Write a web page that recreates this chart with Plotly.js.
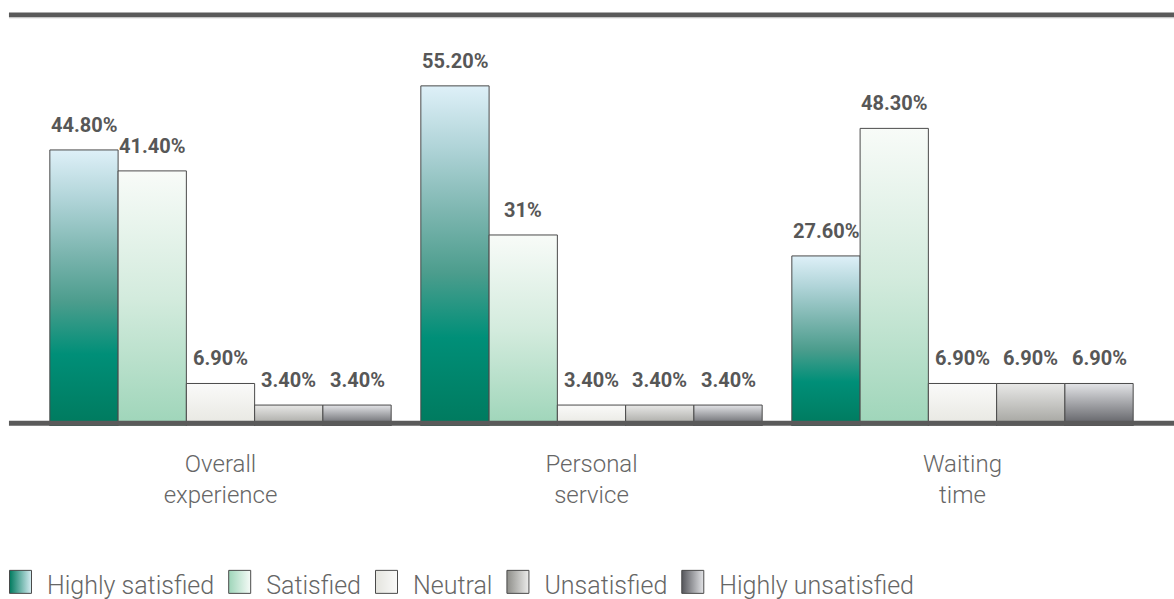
<!DOCTYPE html>
<html><head><meta charset="utf-8">
<script src="https://cdn.plot.ly/plotly-3.0.1.min.js"></script>
<style>html,body{margin:0;padding:0;background:#fff}#chart{width:1174px;height:599px}</style>
</head><body>
<svg width="0" height="0" style="position:absolute">
<defs>
<linearGradient id="bg0" x1="0" y1="0" x2="0" y2="1">
<stop offset="0" stop-color="#def0f8"/><stop offset="0.18" stop-color="#b0d4d8"/><stop offset="0.37" stop-color="#7db6b0"/><stop offset="0.55" stop-color="#4c9d8d"/><stop offset="0.74" stop-color="#008f78"/><stop offset="1" stop-color="#007a5e"/>
</linearGradient>
<linearGradient id="bg1" x1="0" y1="0" x2="0" y2="1">
<stop offset="0" stop-color="#f8fbf8"/><stop offset="0.5" stop-color="#d3ebdd"/><stop offset="1" stop-color="#9ed5b9"/>
</linearGradient>
<linearGradient id="bg2" x1="0" y1="0" x2="0" y2="1">
<stop offset="0" stop-color="#fafaf9"/><stop offset="1" stop-color="#e7e7e1"/>
</linearGradient>
<linearGradient id="bg3" x1="0" y1="0" x2="0" y2="1">
<stop offset="0" stop-color="#e8e8e7"/><stop offset="1" stop-color="#a2a29d"/>
</linearGradient>
<linearGradient id="bg4" x1="0" y1="0" x2="0" y2="1">
<stop offset="0" stop-color="#e3e4e7"/><stop offset="1" stop-color="#5b5c61"/>
</linearGradient>
<linearGradient id="lg0" x1="0" y1="0" x2="1" y2="0">
<stop offset="0" stop-color="#007a5e"/><stop offset="1" stop-color="#d6ecf2"/>
</linearGradient>
<linearGradient id="lg1" x1="0" y1="0" x2="1" y2="0">
<stop offset="0" stop-color="#9ed5b9"/><stop offset="1" stop-color="#f5fbf7"/>
</linearGradient>
<linearGradient id="lg2" x1="0" y1="0" x2="1" y2="0">
<stop offset="0" stop-color="#e4e4de"/><stop offset="1" stop-color="#fafaf9"/>
</linearGradient>
<linearGradient id="lg3" x1="0" y1="0" x2="1" y2="0">
<stop offset="0" stop-color="#8e8e89"/><stop offset="1" stop-color="#ececeb"/>
</linearGradient>
<linearGradient id="lg4" x1="0" y1="0" x2="1" y2="0">
<stop offset="0" stop-color="#55565b"/><stop offset="1" stop-color="#e3e4e7"/>
</linearGradient>
</defs></svg>
<div id="chart"></div>
<script>
// ---- data ----
const categories = ['Overall<br>experience', 'Personal<br>service', 'Waiting<br>time'];
const seriesNames = ['Highly satisfied', 'Satisfied', 'Neutral', 'Unsatisfied', 'Highly unsatisfied'];
const highlySatisfied = [44.8, 55.2, 27.6];
const satisfied = [41.4, 31, 48.3];
const neutral = [6.9, 3.4, 6.9];
const unsatisfied = [3.4, 3.4, 6.9];
const highlyUnsatisfied = [3.4, 3.4, 6.9];
const seriesValues = [highlySatisfied, satisfied, neutral, unsatisfied, highlyUnsatisfied];

// ---- styles ----
const fallbackColors = ['#3f9c8a', '#c9e8d6', '#f1f1ee', '#c6c6c3', '#a0a1a5'];
const BARGAP = 0.08;
const fmt = v => (Math.round(v) === v ? v + '%' : v.toFixed(2) + '%');

const traces = seriesValues.map((vals, i) => ({
  type: 'bar',
  name: seriesNames[i],
  x: categories,
  y: vals,
  marker: {color: fallbackColors[i], line: {color: '#4a4a4a', width: 1}},
  hoverinfo: 'skip'
}));

const nS = seriesValues.length;
const bw = (1 - BARGAP) / nS;
const annotations = [];
seriesValues.forEach((vals, i) => {
  vals.forEach((v, c) => {
    annotations.push({
      x: c + (i - (nS - 1) / 2) * bw,
      y: v,
      xref: 'x', yref: 'y',
      text: fmt(v),
      showarrow: false,
      yanchor: 'bottom',
      xanchor: 'center',
      yshift: 11,
      font: {family: 'Roboto, sans-serif', size: 20, weight: 700, color: '#575757'}
    });
  });
});

const layout = {
  width: 1174, height: 599,
  margin: {l: 35, r: 26, t: 15, b: 173},
  paper_bgcolor: '#ffffff', plot_bgcolor: '#ffffff',
  barmode: 'group', bargap: BARGAP, bargroupgap: 0,
  showlegend: true,
  legend: {
    orientation: 'h', xref: 'container', yref: 'container',
    x: 0, xanchor: 'left', y: 0.024, yanchor: 'middle',
    itemwidth: 37,
    font: {family: 'Roboto, sans-serif', size: 25, weight: 300, color: '#666666'},
    traceorder: 'normal', itemclick: false, itemdoubleclick: false
  },
  xaxis: {
    type: 'category', showgrid: false, zeroline: false, showline: false, ticks: '',
    automargin: false,
    tickfont: {family: 'Roboto, sans-serif', size: 24, weight: 300, color: '#666666'},
    ticklabelstandoff: 21, fixedrange: true
  },
  yaxis: {range: [0, 66.7], visible: false, fixedrange: true, automargin: false},
  annotations: annotations,
  shapes: [
    {type: 'line', xref: 'paper', yref: 'paper', x0: -0.0234, x1: 1.03, y0: 1, y1: 1,
     line: {color: '#5a5a5a', width: 5}},
    {type: 'line', xref: 'paper', yref: 'paper', x0: -0.0234, x1: 1.03, y0: 0.993, y1: 0.993,
     line: {color: '#d4d4d4', width: 1}},
    {type: 'line', xref: 'paper', yref: 'paper', x0: -0.0234, x1: 1.03, y0: 0.0065, y1: 0.0065,
     line: {color: '#5a5a5a', width: 5}}
  ]
};

function applyGradients() {
  const gd = document.getElementById('chart');
  gd.querySelectorAll('.barlayer .trace').forEach((tr, i) => {
    tr.querySelectorAll('.point path').forEach(p => { p.style.fill = 'url(#bg' + i + ')'; });
  });
  gd.querySelectorAll('.legend .traces').forEach((tr, i) => {
    tr.querySelectorAll('.legendpoints path').forEach(p => {
      p.style.fill = 'url(#lg' + i + ')';
      p.style.stroke = '#4a4a4a';
      p.style.strokeWidth = '1px';
      p.setAttribute('d', 'M-14,-14H8V9H-14Z');
    });
  });
}

Plotly.newPlot('chart', traces, layout, {displayModeBar: false, staticPlot: true}).then(applyGradients);
</script>
</body></html>
